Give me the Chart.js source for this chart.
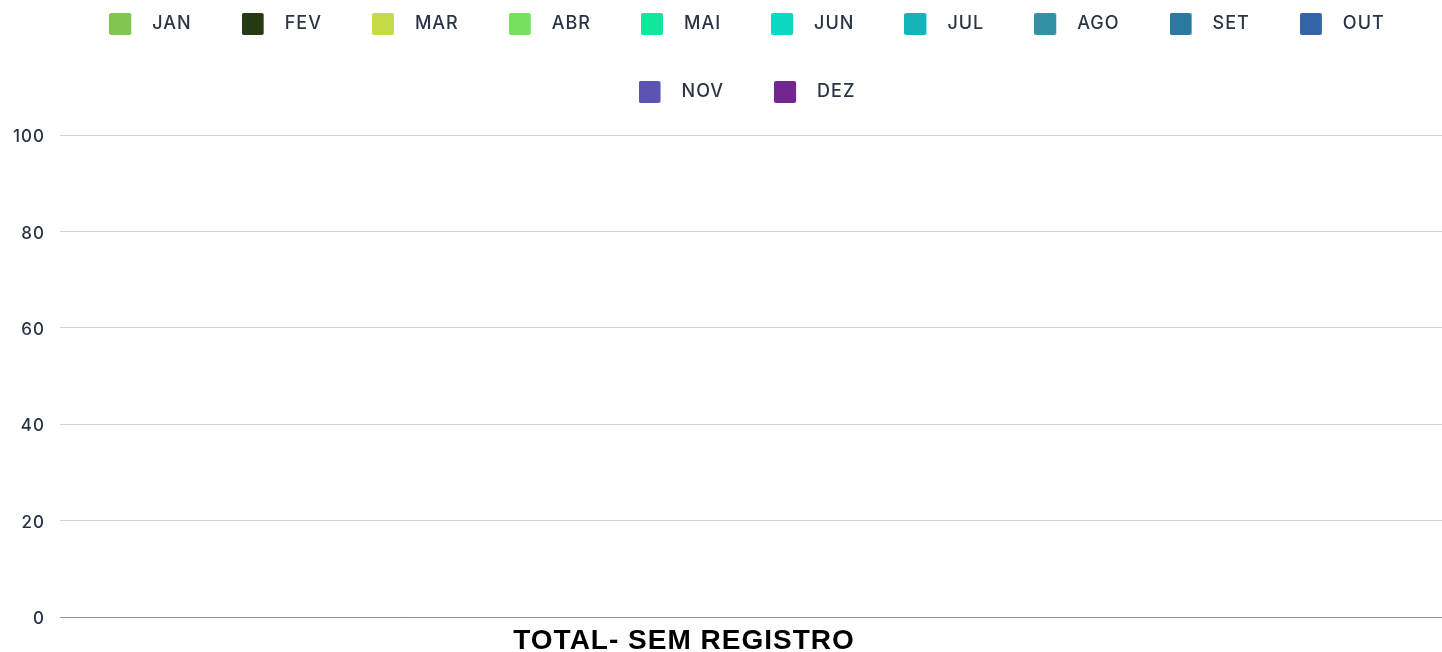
<!DOCTYPE html>
<html lang="pt-BR">
<head>
<meta charset="utf-8">
<title>TOTAL- SEM REGISTRO</title>
<script src="https://cdn.jsdelivr.net/npm/chart.js@4.4.1/dist/chart.umd.min.js"></script>
<style>
  html, body { margin: 0; padding: 0; background: #ffffff; }
  #wrap { position: relative; width: 1442px; height: 652px; overflow: hidden; }
</style>
</head>
<body>
<div id="wrap"><canvas id="chart"></canvas></div>
<script>
// Category on the x axis
const categories = ['TOTAL- SEM REGISTRO'];

// One series per month
const months = ['JAN', 'FEV', 'MAR', 'ABR', 'MAI', 'JUN', 'JUL', 'AGO', 'SET', 'OUT', 'NOV', 'DEZ'];

// Monthly totals for the category (no records in any month)
const monthTotals = [0, 0, 0, 0, 0, 0, 0, 0, 0, 0, 0, 0];

// Series colours
const monthColors = [
  '#80c650', '#243b11', '#c6da47', '#74e05e', '#0ee89c', '#0bd8c2',
  '#14b4b8', '#3391a5', '#2a79a0', '#3464a8', '#5b55b1', '#73268f'
];

// Value axis ticks
const yTicks = [0, 20, 40, 60, 80, 100];

const TEXT_COLOR = '#2b3445';
const UI_FONT = 'Inter, "DejaVu Sans", sans-serif';

// Legend swatch: a rounded square followed by empty space before the label
function makeSwatch(color) {
  const c = document.createElement('canvas');
  c.width = 34;
  c.height = 22;
  const g = c.getContext('2d');
  g.fillStyle = color;
  g.beginPath();
  if (g.roundRect) { g.roundRect(0, 0, 22, 22, 2); } else { g.rect(0, 0, 22, 22); }
  g.fill();
  return c;
}
const swatches = monthColors.map(makeSwatch);

const datasets = months.map((m, i) => ({
  label: m,
  data: [monthTotals[i]],
  backgroundColor: monthColors[i],
  borderWidth: 0
}));

// Slightly wider lettering for all chart text (set again after any canvas resize)
const letterSpacingPlugin = {
  id: 'letterSpacing',
  beforeLayout(chart) { chart.ctx.letterSpacing = '1px'; },
  beforeDraw(chart) { chart.ctx.letterSpacing = '1px'; }
};

new Chart(document.getElementById('chart'), {
  type: 'bar',
  data: { labels: categories, datasets },
  plugins: [letterSpacingPlugin],
  options: {
    responsive: true,
    maintainAspectRatio: false,
    animation: false,
    // the legend runs a little past the right edge of the frame
    layout: { padding: { top: -35, left: 0, right: -52, bottom: 0 } },
    plugins: {
      tooltip: { enabled: false },
      // empty spacer between the legend and the plot area
      title: {
        display: true,
        text: '',
        weight: 500,
        padding: 0,
        font: { size: 24, lineHeight: 1 }
      },
      legend: {
        position: 'top',
        align: 'center',
        labels: {
          usePointStyle: true,
          pointStyleWidth: 34,
          padding: 50,
          color: TEXT_COLOR,
          font: { family: UI_FONT, size: 18, weight: '500' },
          generateLabels: (chart) => chart.data.datasets.map((ds, i) => ({
            text: ds.label,
            fillStyle: monthColors[i],
            strokeStyle: monthColors[i],
            lineWidth: 0,
            pointStyle: swatches[i],
            fontColor: TEXT_COLOR,
            hidden: !chart.isDatasetVisible(i),
            datasetIndex: i
          }))
        }
      }
    },
    scales: {
      x: {
        grid: { display: false, drawTicks: false },
        border: { display: true, color: '#8a909a', width: 1 },
        ticks: {
          color: '#000000',
          padding: 7,
          labelOffset: -67,
          font: { family: '"Liberation Sans", Arial, sans-serif', size: 28, weight: 'bold' }
        },
        afterFit: (scale) => { scale.height = 35; }
      },
      y: {
        min: yTicks[0],
        max: yTicks[yTicks.length - 1],
        ticks: {
          stepSize: yTicks[1] - yTicks[0],
          padding: 15,
          labelOffset: 2,
          color: TEXT_COLOR,
          font: { family: UI_FONT, size: 17, weight: '500' }
        },
        grid: {
          drawTicks: false,
          color: (ctx) => (ctx.tick && ctx.tick.value === 0 ? '#8a909a' : '#d2d2d2'),
          lineWidth: 1
        },
        border: { display: false },
        afterFit: (scale) => { scale.width = 60; }
      }
    }
  }
});
</script>
</body>
</html>
